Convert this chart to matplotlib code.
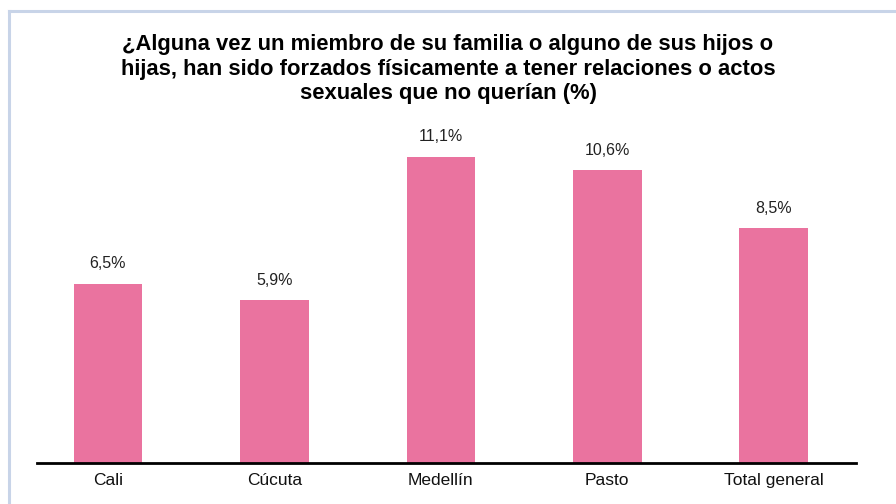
import matplotlib
matplotlib.use("Agg")
import matplotlib.pyplot as plt
from matplotlib.lines import Line2D

categories = ["Cali", "Cúcuta", "Medellín", "Pasto", "Total general"]
values = [6.5, 5.9, 11.1, 10.6, 8.5]
value_labels = ["6,5%", "5,9%", "11,1%", "10,6%", "8,5%"]

title = ("¿Alguna vez un miembro de su familia o alguno de sus hijos o\n"
         "hijas, han sido forzados físicamente a tener relaciones o actos\n"
         "sexuales que no querían (%)")

BAR_COLOR = "#EA739F"
BORDER_COLOR = "#C8D4E8"
W, H = 896, 504

plt.rcParams["font.family"] = ["Liberation Sans", "DejaVu Sans"]

fig = plt.figure(figsize=(W / 100, H / 100), dpi=100)
ax = fig.add_axes([37 / W, (H - 463) / H, (856 - 37) / W, (463 - 120) / H])

x = list(range(len(categories)))
ax.bar(x, values, width=0.413, color=BAR_COLOR)
for xi, v, lab in zip(x, values, value_labels):
    ax.text(xi, v + 0.45, lab, ha="center", va="bottom", fontsize=11.5,
            family=["Liberation Sans Narrow", "Liberation Sans", "DejaVu Sans"],
            color="#222222")

ax.set_xlim(-0.4265, 4.494)
ax.set_ylim(0, 12.43)
ax.set_xticks(x)
ax.set_xticklabels(categories, fontsize=12.5, color="#111111")
ax.tick_params(axis="x", length=0, pad=7)
ax.set_yticks([])
for side in ("top", "right", "left"):
    ax.spines[side].set_visible(False)
ax.spines["bottom"].set_linewidth(2)
ax.spines["bottom"].set_color("black")

fig.text(0.5, 1 - 34 / H, title, ha="center", va="top", fontsize=15.8,
         fontweight="bold", linespacing=1.22)

# frame: only the top and left edges fall inside the picture
fig.add_artist(Line2D([8.5 / W, 1], [1 - 10.5 / H, 1 - 10.5 / H],
                      transform=fig.transFigure, color=BORDER_COLOR, linewidth=2.2))
fig.add_artist(Line2D([8.5 / W, 8.5 / W], [0, 1 - 10.5 / H],
                      transform=fig.transFigure, color=BORDER_COLOR, linewidth=2.2))

fig.savefig("out.png", dpi=100)
